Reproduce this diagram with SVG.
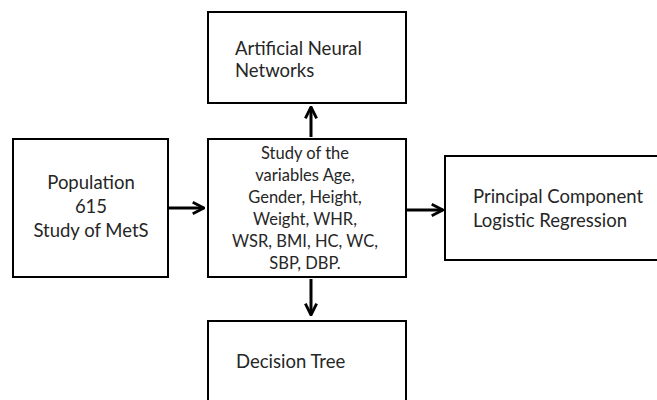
<svg xmlns="http://www.w3.org/2000/svg" width="657" height="400" viewBox="0 0 657 400">
<defs>
<style>
.box{fill:#fff;stroke:#000;stroke-width:2}
.t{font-family:Lato,"Open Sans",sans-serif;font-size:18.5px;fill:#262626}
.s{font-size:16.5px}
.c{text-anchor:middle}
.con{stroke:#000;stroke-width:3;fill:none}
</style>
<marker id="ah" viewBox="0 0 10 10" refX="9" refY="5" markerWidth="4.7" markerHeight="4.7" orient="auto" markerUnits="strokeWidth">
<polyline points="1,1 9,5 1,9" fill="none" stroke="#000" stroke-width="2"/>
</marker>
</defs>
<rect width="657" height="400" fill="#fff"/>
<g id="connectors">
<line class="con" x1="168" y1="208" x2="204" y2="208" marker-end="url(#ah)"/>
<line class="con" x1="311" y1="137" x2="311" y2="107" marker-end="url(#ah)"/>
<line class="con" x1="406" y1="210" x2="443" y2="210" marker-end="url(#ah)"/>
<line class="con" x1="311" y1="279" x2="311" y2="315" marker-end="url(#ah)"/>
</g>
<g id="population">
<rect class="box" x="13" y="139" width="155" height="138"/>
<text class="t c" x="91" y="189">Population</text>
<text class="t c" x="91" y="213">615</text>
<text class="t c" x="91" y="237">Study of MetS</text>
</g>
<g id="variables">
<rect class="box" x="208" y="139" width="198" height="138"/>
<text class="t s c" x="305" y="159">Study of the</text>
<text class="t s c" x="305" y="181">variables Age,</text>
<text class="t s c" x="305" y="203">Gender, Height,</text>
<text class="t s c" x="305" y="225">Weight, WHR,</text>
<text class="t s c" x="305" y="247">WSR, BMI, HC, WC,</text>
<text class="t s c" x="305" y="269">SBP, DBP.</text>
</g>
<g id="ann">
<rect class="box" x="208" y="12" width="198" height="91"/>
<text class="t" x="235" y="55">Artificial Neural</text>
<text class="t" x="235" y="77">Networks</text>
</g>
<g id="pclr">
<rect class="box" x="445" y="156" width="220" height="104"/>
<text class="t" x="473" y="203">Principal Component</text>
<text class="t" x="473" y="227">Logistic Regression</text>
</g>
<g id="dtree">
<rect class="box" x="208" y="321" width="198" height="90"/>
<text class="t" x="236" y="368">Decision Tree</text>
</g>
</svg>
